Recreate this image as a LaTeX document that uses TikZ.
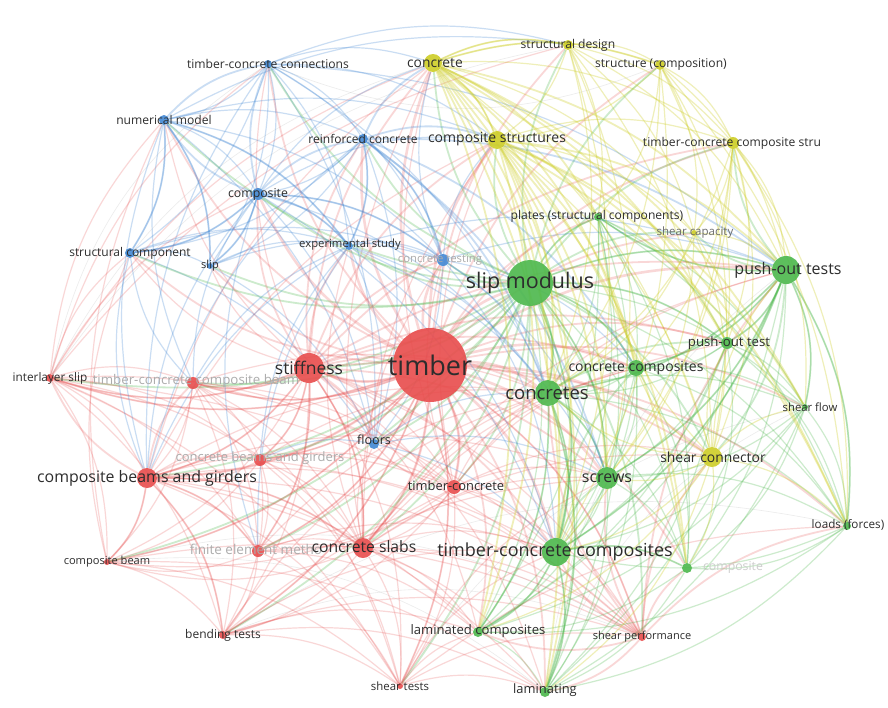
\documentclass[tikz,border=0pt]{standalone}
\usepackage{fontspec}
\setmainfont{Open Sans}
\pgfdeclarelayer{paper}
\pgfdeclarelayer{edges}
\pgfsetlayers{paper,edges,main}
\definecolor{cR}{RGB}{232,76,76}
\definecolor{cB}{RGB}{66,136,212}
\definecolor{cY}{RGB}{206,206,38}
\definecolor{cG}{RGB}{76,184,76}
\definecolor{txt}{RGB}{45,45,45}
\definecolor{fadetxt}{RGB}{172,172,172}
\tikzset{
  x=1pt, y=-1pt,
  lnR/.style={draw=cR, line width=1.2pt, draw opacity=0.22, bend left=18},
  lnB/.style={draw=cB, line width=1.2pt, draw opacity=0.28, bend left=18},
  lnY/.style={draw=cY, line width=1.2pt, draw opacity=0.32, bend left=18},
  lnG/.style={draw=cG, line width=1.2pt, draw opacity=0.28, bend left=18},
  lnF/.style={draw=black!30, line width=0.6pt, draw opacity=0.25, bend left=22},
  hub/.style={line width=2.6pt},
  mid/.style={line width=1.8pt},
  dot/.style={circle, inner sep=0pt, draw=none, fill opacity=0.9},
  dR/.style={dot, fill=cR}, dB/.style={dot, fill=cB},
  dY/.style={dot, fill=cY}, dG/.style={dot, fill=cG},
  lab/.style={text=txt, inner sep=0pt},
  faded/.style={text=fadetxt, inner sep=0pt},
}
\newcommand\fs[1]{\fontsize{#1}{#1}\selectfont}
\newcommand\meshlines[2]{\foreach \a [count=\i] in {#2}{\foreach \b [count=\j] in {#2}{\ifnum\j>\i\relax \draw[#1] (\a) to (\b);\fi}}}
\newcommand\starlines[3]{\foreach \b in {#3}{\draw[#1] (#2) to (\b);}}
\begin{document}
\begin{tikzpicture}
\begin{pgfonlayer}{paper}
\fill[white] (0,0) rectangle (888,707);
\end{pgfonlayer}
\useasboundingbox (0,0) rectangle (888,707);
% ---- nodes (circles) ----
% red
\node[dR, minimum size=74] (tim) at (430,365) {};
\node[dR, minimum size=30] (stif) at (309,368) {};
\node[dR, minimum size=8] (ils) at (50,378) {};
\node[dR, minimum size=12] (tccb) at (193,383) {};
\node[dR, minimum size=12] (cbg) at (260,460) {};
\node[dR, minimum size=20] (cbag) at (147,478) {};
\node[dR, minimum size=14] (tc) at (454,487) {};
\node[dR, minimum size=12] (fem) at (258,551) {};
\node[dR, minimum size=20] (cs) at (363,548) {};
\node[dR, minimum size=6] (cb) at (107,562) {};
\node[dR, minimum size=8] (bt) at (223,635) {};
\node[dR, minimum size=6] (st) at (400,686) {};
\node[dR, minimum size=8] (sp) at (642,637) {};
% blue
\node[dB, minimum size=8] (tcc) at (268,64) {};
\node[dB, minimum size=10] (nm) at (164,120) {};
\node[dB, minimum size=10] (rc) at (363,139) {};
\node[dB, minimum size=12] (comp) at (258,194) {};
\node[dB, minimum size=10] (sc) at (130,253) {};
\node[dB, minimum size=6] (slip) at (210,266) {};
\node[dB, minimum size=8] (es) at (349,246) {};
\node[dB, minimum size=12] (ct) at (443,260) {};
\node[dB, minimum size=10] (flo) at (374,444) {};
% yellow
\node[dY, minimum size=18] (con) at (433,63) {};
\node[dY, minimum size=10] (sd) at (568,45) {};
\node[dY, minimum size=10] (sco) at (660,65) {};
\node[dY, minimum size=18] (cst) at (497,140) {};
\node[dY, minimum size=12] (tccs) at (733,143) {};
\node[dY, minimum size=6] (scap) at (694,233) {};
\node[dY, minimum size=20] (shc) at (712,457) {};
% green
\node[dG, minimum size=46] (sm) at (530,283) {};
\node[dG, minimum size=28] (pots) at (786,270) {};
\node[dG, minimum size=8] (pl) at (598,217) {};
\node[dG, minimum size=12] (pot) at (727,343) {};
\node[dG, minimum size=16] (ccomp) at (636,368) {};
\node[dG, minimum size=26] (cons) at (548,393) {};
\node[dG, minimum size=6] (sf) at (805,407) {};
\node[dG, minimum size=22] (scr) at (607,478) {};
\node[dG, minimum size=8] (lf) at (847,526) {};
\node[dG, minimum size=28] (tccomp) at (556,552) {};
\node[dG, minimum size=10] (comp2) at (687,568) {};
\node[dG, minimum size=10] (lc) at (478,632) {};
\node[dG, minimum size=10] (lam) at (545,692) {};
% ---- edges ----
\begin{pgfonlayer}{edges}
% faint outer arcs
\starlines{lnF}{ils}{tcc,con,sd}
\starlines{lnF}{cb}{lam,sp}
\starlines{lnF}{bt}{lf,sp}
\starlines{lnF}{st}{sf}
\starlines{lnF}{lam}{sf,pots}
\starlines{lnF}{sco}{tcc}
% clusters
\meshlines{lnR}{tim,stif,ils,tccb,cbg,cbag,tc,fem,cs,cb,bt,st,sp}
\meshlines{lnB}{tcc,nm,rc,comp,sc,slip,es,ct,flo}
\meshlines{lnY}{con,sd,sco,cst,tccs,scap,shc}
\meshlines{lnG}{sm,pots,pl,pot,ccomp,cons,sf,scr,lf,tccomp,comp2,lc,lam}
% hubs
\starlines{lnR,hub}{tim}{stif,cbag,cs,tc,flo,ct,rc,comp,es,con,cst,sm,cons,tccomp,scr,ccomp,pots,shc}
\starlines{lnR,mid}{tim}{tcc,nm,sc,slip,sd,sco,tccs,scap,pl,pot,sf,lf,comp2,lc,lam,tccb,cbg,fem,bt,st,sp,ils,cb}
\starlines{lnG,mid}{sm}{stif,ils,tccb,cbg,cbag,tc,fem,cs,cb,bt,st,sp,tcc,nm,rc,comp,sc,slip,es,ct,flo,con,sd,sco,cst,tccs,scap,shc}
\starlines{lnG,mid}{sm}{pots,cons,tccomp,scr,ccomp,pot,pl}
\starlines{lnG,mid}{pots}{pot,ccomp,cons,sf,lf,scr,tccomp,shc,tccs,scap,pl}
\starlines{lnG,mid}{cons}{tccomp,scr,ccomp,pot,lc,lam}
\starlines{lnG,mid}{tccomp}{scr,lc,lam,comp2,ccomp}
\starlines{lnR,mid}{stif}{cons,tccomp,scr,pots,ccomp,pot,con,cst,tccs,shc,rc,comp,es,ct,flo}
\starlines{lnR}{stif}{nm,sc,slip,tcc,lc,lam}
\starlines{lnR,mid}{stif}{cbag,cs,tccb,cbg,fem,ils}
\starlines{lnR,mid}{cbag}{cs,fem,cbg,tccb,bt,cb,ils}
\starlines{lnR}{cs}{cons,tccomp,scr,lc,lam,ccomp,pot,pots,shc,cst,con,flo,ct,es}
\starlines{lnR}{cbag}{cons,tccomp,scr,con,cst,lam,lc}
\starlines{lnB}{cbag}{comp,nm,sc,tcc,rc,es}
\starlines{lnR}{tc}{cons,tccomp,scr,ccomp,pots,shc,cst,con,flo,ct}
\starlines{lnR}{bt}{lam,lc,tccomp,cons,scr}
\starlines{lnR}{st}{lam,lc,tccomp,scr,lf}
\starlines{lnR}{ils}{con,sd,sc,nm,comp,tcc}
\starlines{lnR}{cb}{sc,nm,lam}
\starlines{lnB}{tccb}{comp,nm,sc,es}
\starlines{lnR}{tccb}{cons}
\starlines{lnB}{cbg}{flo,es}
\starlines{lnR}{cbg}{cons}
\starlines{lnR}{fem}{cons,tccomp,lc}
\starlines{lnB}{fem}{es,comp}
\starlines{lnR,mid}{sp}{tccomp,scr,cons,lam,lc,pots,shc,comp2,lf}
\starlines{lnB,mid}{comp}{nm,tcc,sc,slip,es,rc,ct}
\starlines{lnB,mid}{nm}{tcc,sc,slip,es}
\starlines{lnB}{tcc}{con,cst,sd,cons,pots}
\starlines{lnB}{nm}{sd,cst}
\starlines{lnB,mid}{rc}{con,cst,cons,ccomp,pots,scr,es,ct}
\starlines{lnB}{comp}{con,cst,cons,tccomp}
\starlines{lnB}{es}{cons,scr,pots,tccomp}
\starlines{lnB}{ct}{cons,pots,cst,con,scr,tccomp,ccomp}
\starlines{lnB}{flo}{cons,tccomp,scr}
\starlines{lnY,mid}{con}{pots,pl,pot,ccomp,cons,sf,scr,lf,tccomp,comp2,lc,lam,cst,sd,sco}
\starlines{lnY,mid}{cst}{pots,pl,pot,ccomp,cons,sf,scr,lf,tccomp,comp2,lc,lam}
\starlines{lnY}{shc}{pots,pl,pot,ccomp,cons,sf,scr,lf,tccomp,comp2,lc,lam}
\starlines{lnY}{tccs}{pots,pot,ccomp,cons,scr,sf,lf,tccomp}
\starlines{lnY}{sd}{pots,cons,pl,tccomp,scr}
\starlines{lnY}{sco}{pots,cons,pl,tccomp,pot,lf}
\starlines{lnY}{scap}{pots,pot,cons,scr}
\end{pgfonlayer}
% ---- labels ----
\node[lab, font=\fs{27}] (tim-l) at (tim) {timber};
\node[lab, font=\fs{17.5}] (stif-l) at (stif) {stiffness};
\node[lab, font=\fs{11.8}] (ils-l) at (ils) {interlayer slip};
\node[faded, font=\fs{13.3}] (tccb-l) at (196,381) {timber-concrete composite beam};
\node[faded, font=\fs{13}] (cbg-l) at (260,458) {concrete beams and girders};
\node[lab, font=\fs{15.9}] (cbag-l) at (cbag) {composite beams and girders};
\node[lab, font=\fs{12.9}] (tc-l) at (456,486) {timber-concrete};
\node[faded, font=\fs{13.5}] (fem-l) at (256,549) {finite element metho};
\node[lab, font=\fs{15.7}] (cs-l) at (364,547) {concrete slabs};
\node[lab, font=\fs{11.1}] (cb-l) at (cb) {composite beam};
\node[lab, font=\fs{12}] (bt-l) at (bt) {bending tests};
\node[lab, font=\fs{11.4}] (st-l) at (st) {shear tests};
\node[lab, font=\fs{11}] (sp-l) at (sp) {shear performance};
\node[lab, font=\fs{12.1}] (tcc-l) at (tcc) {timber-concrete connections};
\node[lab, font=\fs{12.1}] (nm-l) at (nm) {numerical model};
\node[lab, font=\fs{12}] (rc-l) at (rc) {reinforced concrete};
\node[lab, font=\fs{12.3}] (comp-l) at (comp) {composite};
\node[lab, font=\fs{12}] (sc-l) at (sc) {structural component};
\node[lab, font=\fs{11}] (slip-l) at (slip) {slip};
\node[lab, font=\fs{11.3}] (es-l) at (350,245) {experimental study};
\node[faded, font=\fs{11.3}] (ct-l) at (440,260) {concrete testing};
\node[lab, font=\fs{12.6}] (flo-l) at (374,440) {floors};
\node[lab, font=\fs{13.8}] (con-l) at (435,63) {concrete};
\node[lab, font=\fs{12.1}] (sd-l) at (sd) {structural design};
\node[lab, font=\fs{12.1}] (sco-l) at (661,65) {structure (composition)};
\node[lab, font=\fs{14}] (cst-l) at (497,139) {composite structures};
\node[lab, font=\fs{12.1}] (tccs-l) at (732,143) {timber-concrete composite stru};
\node[lab, text=txt!70, font=\fs{11.5}] (scap-l) at (695,233) {shear capacity};
\node[lab, font=\fs{13.9}] (shc-l) at (713,457) {shear connector};
\node[lab, font=\fs{21.5}] (sm-l) at (530,283) {slip modulus};
\node[lab, font=\fs{16}] (pots-l) at (788,270) {push-out tests};
\node[lab, font=\fs{12.1}] (pl-l) at (597,216) {plates (structural components)};
\node[lab, font=\fs{13.2}] (pot-l) at (729,343) {push-out test};
\node[lab, font=\fs{14}] (ccomp-l) at (ccomp) {concrete composites};
\node[lab, font=\fs{18.5}] (cons-l) at (547,393) {concretes};
\node[lab, font=\fs{11.3}] (sf-l) at (810,407) {shear flow};
\node[lab, font=\fs{16}] (scr-l) at (607,478) {screws};
\node[lab, font=\fs{11.7}] (lf-l) at (848,525) {loads (forces)};
\node[lab, font=\fs{18}] (tccomp-l) at (555,552) {timber-concrete composites};
\node[faded, text=fadetxt!60, font=\fs{12.3}] (comp2-l) at (733,567) {composite};
\node[lab, font=\fs{13.1}] (lc-l) at (478,631) {laminated composites};
\node[lab, font=\fs{12.9}] (lam-l) at (545,690) {laminating};
\end{tikzpicture}
\end{document}
